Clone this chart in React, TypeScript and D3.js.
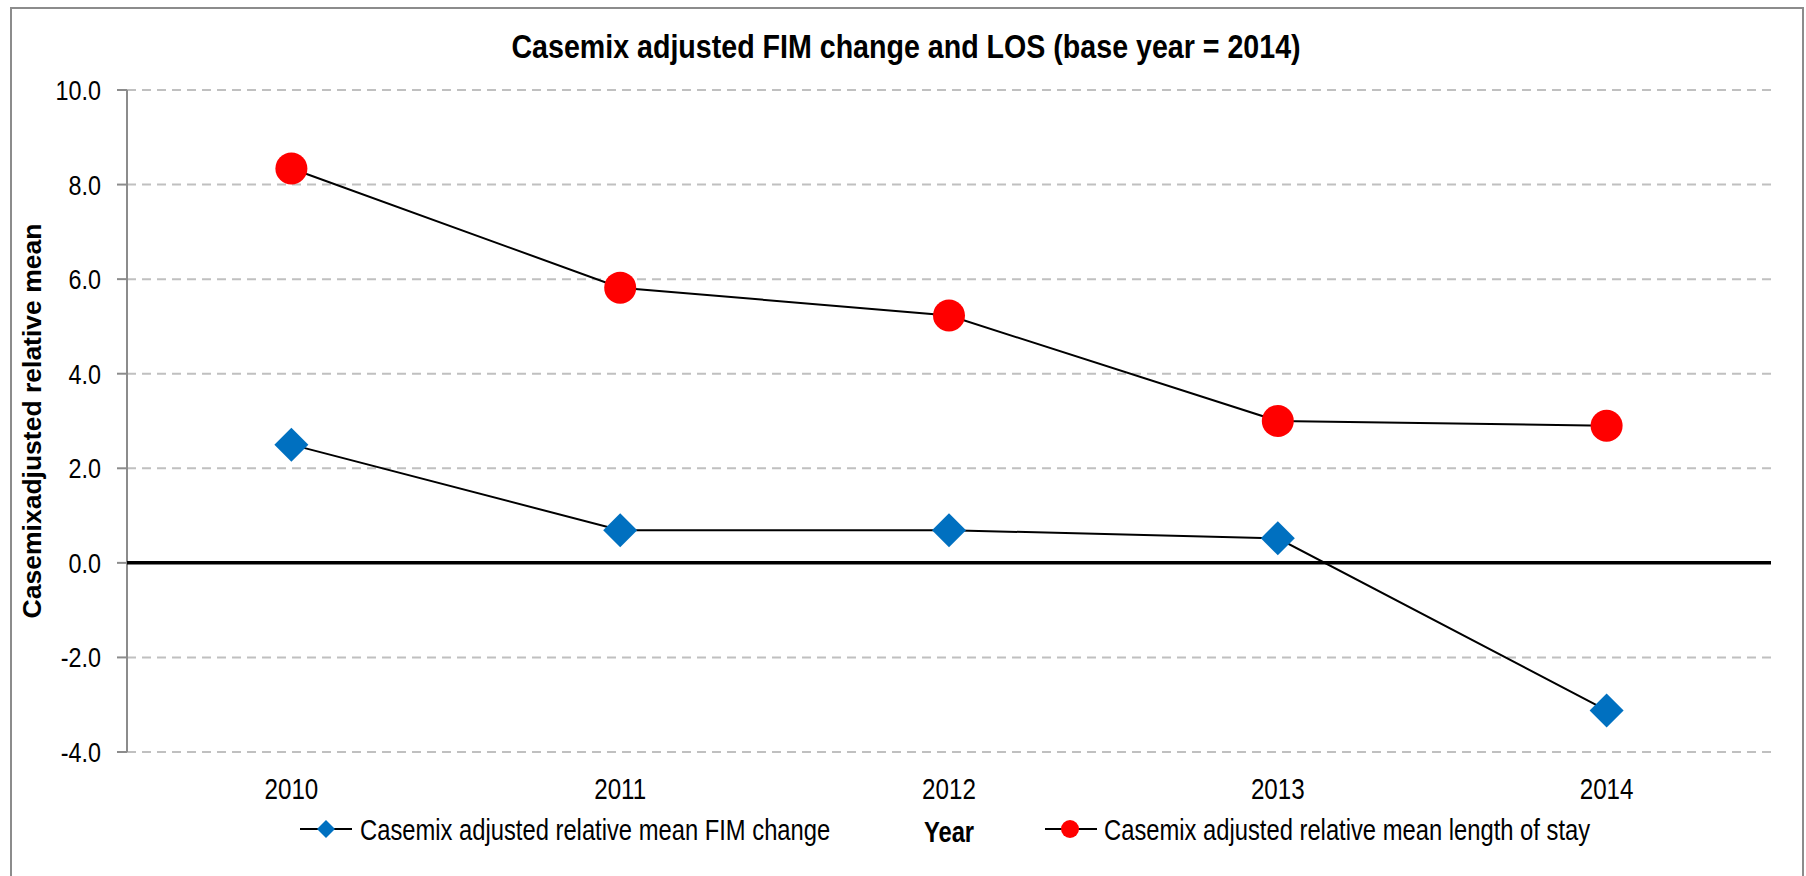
import React from "react";
import * as d3 from "d3";

const years = ["2010", "2011", "2012", "2013", "2014"];
const fimChange = [2.5, 0.69, 0.69, 0.52, -3.12];
const lengthOfStay = [8.34, 5.82, 5.23, 3.0, 2.9];
const yTicks = [-4, -2, 0, 2, 4, 6, 8, 10];
const title = "Casemix adjusted FIM change and LOS (base year = 2014)";
const yTitle = "Casemixadjusted relative mean";
const xTitle = "Year";
const fimLabel = "Casemix adjusted relative mean FIM change";
const losLabel = "Casemix adjusted relative mean length of stay";

const W = 1806;
const H = 876;
const SANS = "'Liberation Sans', Arial, sans-serif";

type NProps = {
  x: number;
  y: number;
  sx?: number;
  anchor?: "start" | "middle" | "end";
  size: number;
  bold?: boolean;
  children: React.ReactNode;
};

function NText({ x, y, sx = 0.82, anchor = "start", size, bold, children }: NProps) {
  return (
    <text
      transform={`translate(${x},${y}) scale(${sx},1)`}
      textAnchor={anchor}
      fontFamily={SANS}
      fontSize={size}
      fontWeight={bold ? "bold" : "normal"}
      fill="#000"
    >
      {children}
    </text>
  );
}

export default function App() {
  const left = 127;
  const right = 1771;
  const top = 90;
  const bottom = 752;
  const x = d3.scaleBand().domain(years).range([left, right]);
  const y = d3.scaleLinear().domain([-4, 10]).range([bottom, top]);
  const cx = (yr: string) => (x(yr) as number) + x.bandwidth() / 2;
  const line = d3
    .line<number>()
    .x((_, i) => cx(years[i]))
    .y((d) => y(d));
  const diamond = (r: number) => `M0,${-r}L${r},0L0,${r}L${-r},0Z`;

  return (
    <svg
      width={W}
      height={H}
      style={{ position: "absolute", left: 0, top: 0, background: "#fff" }}
    >
      <rect x={11} y={8} width={1792} height={880} fill="#fff" stroke="#8c8c8c" strokeWidth={2} />
      <NText x={906} y={58} anchor="middle" size={32.5} sx={0.88} bold>
        {title}
      </NText>
      {yTicks.map((t) =>
        t === 0 ? null : (
          <line key={"g" + t} x1={left} x2={right} y1={y(t)} y2={y(t)} stroke="#c0c0c0" strokeWidth={2} strokeDasharray="9 6" />
        )
      )}
      <line x1={left} x2={left} y1={top} y2={bottom} stroke="#8c8c8c" strokeWidth={2} />
      {yTicks.map((t) => (
        <g key={"t" + t}>
          <line x1={left - 10} x2={left} y1={y(t)} y2={y(t)} stroke="#8c8c8c" strokeWidth={2} />
          <NText x={left - 26} y={y(t) + 10} anchor="end" size={28.5}>
            {t.toFixed(1)}
          </NText>
        </g>
      ))}
      <line x1={left} x2={right} y1={y(0)} y2={y(0)} stroke="#000" strokeWidth={3.5} />
      {years.map((yr) => (
        <NText key={yr} x={cx(yr)} y={799} anchor="middle" size={29.5}>
          {yr}
        </NText>
      ))}
      <text
        transform={`translate(41, 421) rotate(-90)`}
        textAnchor="middle"
        fontFamily={SANS}
        fontWeight="bold"
        fontSize={26.5}
      >
        {yTitle}
      </text>
      <path d={line(lengthOfStay) || ""} fill="none" stroke="#000" strokeWidth={2} />
      <path d={line(fimChange) || ""} fill="none" stroke="#000" strokeWidth={2} />
      {lengthOfStay.map((v, i) => (
        <circle key={"c" + i} cx={cx(years[i])} cy={y(v)} r={16} fill="#ff0000" />
      ))}
      {fimChange.map((v, i) => (
        <path key={"d" + i} transform={`translate(${cx(years[i])},${y(v)})`} d={diamond(17)} fill="#0070c0" />
      ))}
      <g transform="translate(300, 829)">
        <line x1={0} x2={52} y1={0} y2={0} stroke="#000" strokeWidth={2} />
        <path transform="translate(26,0)" d={diamond(9)} fill="#0070c0" />
      </g>
      <NText x={360} y={840} size={29}>
        {fimLabel}
      </NText>
      <NText x={cx("2012")} y={842} anchor="middle" size={29} bold>
        {xTitle}
      </NText>
      <g transform="translate(1045, 829)">
        <line x1={0} x2={52} y1={0} y2={0} stroke="#000" strokeWidth={2} />
        <circle cx={25} cy={0} r={9} fill="#ff0000" />
      </g>
      <NText x={1104} y={840} size={29}>
        {losLabel}
      </NText>
    </svg>
  );
}
